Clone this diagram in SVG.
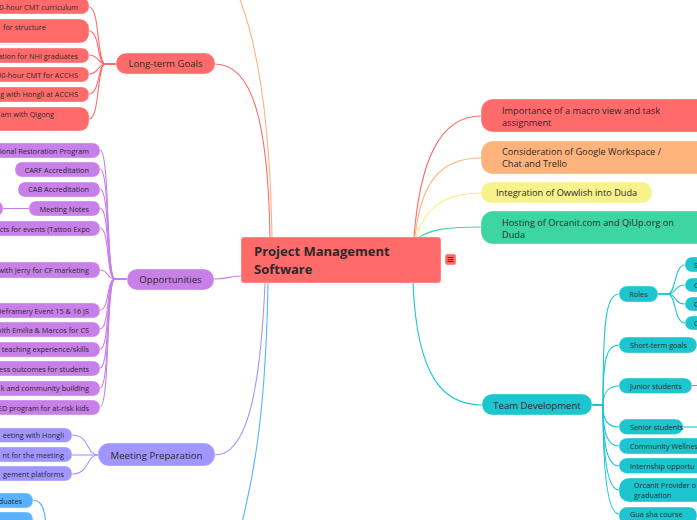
<svg xmlns="http://www.w3.org/2000/svg" width="697" height="520" viewBox="0 0 697 520">
<style>
text{font-family:"Open Sans","Noto Sans",sans-serif;fill:#2a2a2a}
.s{font-size:7.3px}
.m{font-size:9.6px}
.r{font-size:9.2px}
.e{text-anchor:end}
.c{text-anchor:middle}
.l{fill:none;stroke-width:1.1}
.red{fill:#FF6B6B}
.org{fill:#FFB37C}
.yel{fill:#F7F28B}
.grn{fill:#3DD6A3}
.tea{fill:#1DC5CF}
.pur{fill:#C87FE8}
.lav{fill:#A196FF}
.blu{fill:#5AB2FF}
rect{stroke:#ffffff;stroke-opacity:0.35;stroke-width:1}
</style>
<rect x="0" y="0" width="697" height="520" fill="#ffffff" stroke="none"/>
<g id="connectors">
  <!-- main branches -->
  <path class="l" stroke="#FF6B6B" stroke-width="1.4" d="M215,64 C252,64 268,120 270,237"/>
  <path class="l" stroke="#FFB37C" stroke-width="1.4" d="M272,237 C270,120 258,40 236,-10"/>
  <path class="l" stroke="#C87FE8" stroke-width="1.4" d="M213,279 C226,279 232,276 242,276"/>
  <path class="l" stroke="#A196FF" stroke-width="1.4" d="M215,455 C245,455 260,400 265,283"/>
  <path class="l" stroke="#5AB2FF" stroke-width="1.4" d="M268,283 C266,400 256,470 240,530"/>
  <path class="l" stroke="#FF6B6B" stroke-width="1.4" d="M414,237 C420,160 440,116 481,116"/>
  <path class="l" stroke="#FFB37C" stroke-width="1.4" d="M415,237 C421,180 442,158 481,158"/>
  <path class="l" stroke="#F4EC78" stroke-width="1.4" d="M416,237 C426,206 446,193 481,193"/>
  <path class="l" stroke="#3DD6A3" stroke-width="1.4" d="M418,238 C430,229 450,227 481,227"/>
  <path class="l" stroke="#1DC5CF" stroke-width="1.4" d="M413,283 C417,380 445,405 482,405"/>
  <!-- long-term goals children -->
  <g stroke="#FF6B6B" class="l">
    <path d="M116,64 H105 C97,64 100,7 89,7"/>
    <path d="M116,64 H105 C97,64 100,31 89,31"/>
    <path d="M116,64 H105 C98,64 99,55 89,55"/>
    <path d="M116,64 H105 C98,64 99,74 89,74"/>
    <path d="M116,64 H105 C98,64 100,94 89,94"/>
    <path d="M116,64 H105 C97,64 100,119 89,119"/>
  </g>
  <!-- opportunities children -->
  <g stroke="#C87FE8" class="l">
    <path d="M127,279 H115 C106,279 110,150 100,150"/>
    <path d="M127,279 H115 C106,279 110,169 100,169"/>
    <path d="M127,279 H115 C106,279 110,189 100,189"/>
    <path d="M127,279 H115 C106,279 110,208 100,208"/>
    <path d="M127,279 H115 C106,279 110,228 100,228"/>
    <path d="M127,279 H115 C106,279 109,270 100,270"/>
    <path d="M127,279 H115 C106,279 110,310 100,310"/>
    <path d="M127,279 H115 C106,279 110,329 100,329"/>
    <path d="M127,279 H115 C106,279 110,349 100,349"/>
    <path d="M127,279 H115 C106,279 110,368 100,368"/>
    <path d="M127,279 H115 C106,279 110,388 100,388"/>
    <path d="M127,279 H115 C106,279 110,407 100,407"/>
    <path d="M29,208.5 H3"/>
  </g>
  <!-- meeting preparation children -->
  <g stroke="#A196FF" class="l">
    <path d="M98,455 C86,455 90,435 72,435"/>
    <path d="M98,455 H72"/>
    <path d="M98,455 C86,455 90,474 72,474"/>
  </g>
  <!-- blue children -->
  <g stroke="#5AB2FF" class="l">
    <path d="M33,500 C42,500 45,510 46,525"/>
  </g>
  <!-- team development children -->
  <g stroke="#1DC5CF" class="l">
    <path d="M592,405 H603 C603,320 606,294 619,294"/>
    <path d="M592,405 H603 C603,360 606,345 619,345"/>
    <path d="M592,405 H603 C603,395 607,386 619,386"/>
    <path d="M592,405 H603 C603,420 607,427 619,427"/>
    <path d="M592,405 H603 C603,430 606,446 619,446"/>
    <path d="M592,405 H603 C603,440 606,466 619,466"/>
    <path d="M592,405 H603 C603,450 606,490 619,490"/>
    <path d="M592,405 H603 C603,460 606,514 619,514"/>
    <path d="M658,294 H668 C676,294 674,265 685,265"/>
    <path d="M658,294 H668 C676,294 674,285 685,285"/>
    <path d="M658,294 H668 C676,294 674,304 685,304"/>
    <path d="M658,294 H668 C676,294 674,323 685,323"/>
    <path d="M692,385.5 H697"/>
    <path d="M683,427 H697"/>
  </g>
</g>
<g id="central">
  <rect class="red" x="241" y="237" width="200" height="46" rx="3" stroke="#ff9a9a" stroke-opacity="1"/>
  <text x="254" y="256" font-size="13" font-weight="bold" fill="#111">Project Management</text>
  <text x="254" y="274" font-size="13" font-weight="bold" fill="#111">Software</text>
</g>
<g id="central-icon">
  <rect class="red" x="445" y="254" width="11" height="11" rx="2" stroke="#ff9a9a" stroke-opacity="1"/>
  <path d="M447.5,257.5 H453.5 M447.5,259.5 H453.5 M447.5,261.5 H453.5" stroke="#333" stroke-width="0.9"/>
</g>
<g id="long-term-goals">
  <rect class="red" x="116" y="53" width="99" height="21" rx="10"/>
  <text class="m c" x="165.5" y="67">Long-term Goals</text>
</g>
<g id="ltg-1"><rect class="red" x="-20" y="-2" width="109" height="16" rx="7"/><text class="s e" x="78" y="9.5">0-hour CMT curriculum</text></g>
<g id="ltg-2"><rect class="red" x="-20" y="19" width="109" height="24" rx="9"/><text class="s" x="3" y="29.5">for structure</text></g>
<g id="ltg-3"><rect class="red" x="-20" y="48" width="109" height="15" rx="7"/><text class="s e" x="78" y="58.5">ation for NHI graduates</text></g>
<g id="ltg-4"><rect class="red" x="-20" y="67" width="109" height="15" rx="7"/><text class="s e" x="78" y="77.5">00-hour CMT for ACCHS</text></g>
<g id="ltg-5"><rect class="red" x="-20" y="87" width="109" height="15" rx="7"/><text class="s e" x="78" y="97">g with Hongli at ACCHS</text></g>
<g id="ltg-6"><rect class="red" x="-20" y="107" width="109" height="24" rx="9"/><text class="s e" x="54" y="117">am with Qigong</text></g>

<g id="opportunities">
  <rect class="pur" x="127" y="269" width="87" height="21" rx="10"/>
  <text class="m c" x="170.5" y="282.5">Opportunities</text>
</g>
<g id="opp-1"><rect class="pur" x="-20" y="143" width="120" height="15" rx="7"/><text class="s e" x="89" y="153.5">tional Restoration Program</text></g>
<g id="opp-2"><rect class="pur" x="15" y="162" width="85" height="15" rx="7"/><text class="s e" x="89" y="172.5">CARF Accreditation</text></g>
<g id="opp-3"><rect class="pur" x="18" y="182" width="82" height="15" rx="7"/><text class="s e" x="89" y="192">CAB Accreditation</text></g>
<g id="opp-4"><rect class="pur" x="29" y="201" width="71" height="15" rx="7"/><text class="s e" x="89" y="211.5">Meeting Notes</text></g>
<g id="opp-4a"><rect class="pur" x="-20" y="201" width="23" height="15" rx="7"/></g>
<g id="opp-5"><rect class="pur" x="-20" y="221" width="120" height="15" rx="7"/><text class="s e" x="90" y="231.5">cts for events (Tattoo Expo</text></g>
<g id="opp-6"><rect class="pur" x="-20" y="262" width="120" height="16" rx="7"/><text class="s e" x="89" y="273">with Jerry for CF marketing</text></g>
<g id="opp-7"><rect class="pur" x="-20" y="303" width="120" height="15" rx="7"/><text class="s e" x="89" y="313.5">Deframery Event 15 &amp; 16 JS</text></g>
<g id="opp-8"><rect class="pur" x="-20" y="322" width="120" height="15" rx="7"/><text class="s e" x="89" y="332.5">with Emilia &amp; Marcos for CS</text></g>
<g id="opp-9"><rect class="pur" x="-20" y="342" width="120" height="15" rx="7"/><text class="s e" x="89" y="352">teaching experience/skills</text></g>
<g id="opp-10"><rect class="pur" x="-20" y="361" width="120" height="15" rx="7"/><text class="s e" x="89" y="371.5">ess outcomes for students</text></g>
<g id="opp-11"><rect class="pur" x="-20" y="381" width="120" height="15" rx="7"/><text class="s e" x="89" y="391">k and community building</text></g>
<g id="opp-12"><rect class="pur" x="-20" y="400" width="120" height="15" rx="7"/><text class="s e" x="89" y="410.5">ED program for at-risk kids</text></g>

<g id="meeting-preparation">
  <rect class="lav" x="98" y="443" width="117" height="23" rx="11"/>
  <text class="m c" x="156.5" y="458.5">Meeting Preparation</text>
</g>
<g id="mp-1"><rect class="lav" x="-20" y="428" width="92" height="14.5" rx="7"/><text class="s e" x="64" y="438">eeting with Hongli</text></g>
<g id="mp-2"><rect class="lav" x="-20" y="447" width="92" height="15" rx="7"/><text class="s e" x="64" y="457.5">nt for the meeting</text></g>
<g id="mp-3"><rect class="lav" x="-20" y="466" width="92" height="15" rx="7"/><text class="s e" x="64" y="476.5">gement platforms</text></g>

<g id="blue-1"><rect class="blu" x="-20" y="493" width="53" height="15" rx="7"/><text class="s e" x="22" y="503.5">duates</text></g>
<g id="blue-2"><rect class="blu" x="-20" y="512" width="53" height="15" rx="7"/></g>

<g id="macro-view">
  <rect class="red" x="481" y="99" width="230" height="33" rx="12"/>
  <text class="r" x="502" y="114">Importance of a macro view and task</text>
  <text class="r" x="502" y="126">assignment</text>
</g>
<g id="google-workspace">
  <rect class="org" x="481" y="141" width="230" height="33" rx="12"/>
  <text class="r" x="502" y="155">Consideration of Google Workspace /</text>
  <text class="r" x="502" y="167">Chat and Trello</text>
</g>
<g id="owwlish">
  <rect class="yel" x="481" y="182" width="171" height="21" rx="10"/>
  <text class="r" x="496" y="196">Integration of Owwlish into Duda</text>
</g>
<g id="hosting">
  <rect class="grn" x="481" y="211" width="230" height="33" rx="12"/>
  <text class="r" x="502" y="226">Hosting of Orcanit.com and QiUp.org on</text>
  <text class="r" x="502" y="238">Duda</text>
</g>

<g id="team-development">
  <rect class="tea" x="482" y="394" width="110" height="21" rx="10"/>
  <text class="m c" x="537" y="408.5">Team Development</text>
</g>
<g id="roles"><rect class="tea" x="619" y="286" width="39" height="16" rx="8"/><text class="s c" x="638.5" y="296.5">Roles</text></g>
<g id="role-1"><rect class="tea" x="685" y="257" width="30" height="15" rx="7"/><text class="s" x="694" y="267.5">S</text></g>
<g id="role-2"><rect class="tea" x="685" y="278" width="30" height="14" rx="7"/><text class="s" x="694" y="288">C</text></g>
<g id="role-3"><rect class="tea" x="685" y="297" width="30" height="14" rx="7"/><text class="s" x="694" y="307">C</text></g>
<g id="role-4"><rect class="tea" x="685" y="316" width="30" height="14" rx="7"/><text class="s" x="694" y="326">C</text></g>
<g id="short-term-goals"><rect class="tea" x="619" y="337" width="78" height="16" rx="8"/><text class="s" x="630" y="347.5">Short-term goals</text></g>
<g id="junior-students"><rect class="tea" x="619" y="378" width="73" height="15.5" rx="8"/><text class="s" x="630" y="388.5">Junior students</text></g>
<g id="senior-students"><rect class="tea" x="619" y="419" width="64" height="15.5" rx="8"/><text class="s" x="630" y="429.5">Senior students</text></g>
<g id="community-wellness"><rect class="tea" x="619" y="438" width="95" height="16" rx="8"/><text class="s" x="630" y="448.5">Community Wellnes</text></g>
<g id="internship"><rect class="tea" x="619" y="458" width="95" height="15.5" rx="8"/><text class="s" x="630" y="468.5">Internship opportu</text></g>
<g id="orcanit-provider"><rect class="tea" x="619" y="478" width="95" height="24" rx="10"/><text class="s" x="634" y="488">Orcanit Provider o</text><text class="s" x="634" y="497.5">graduation</text></g>
<g id="gua-sha"><rect class="tea" x="619" y="507" width="78" height="17" rx="8"/><text class="s" x="630" y="517">Gua sha course</text></g>
</svg>
